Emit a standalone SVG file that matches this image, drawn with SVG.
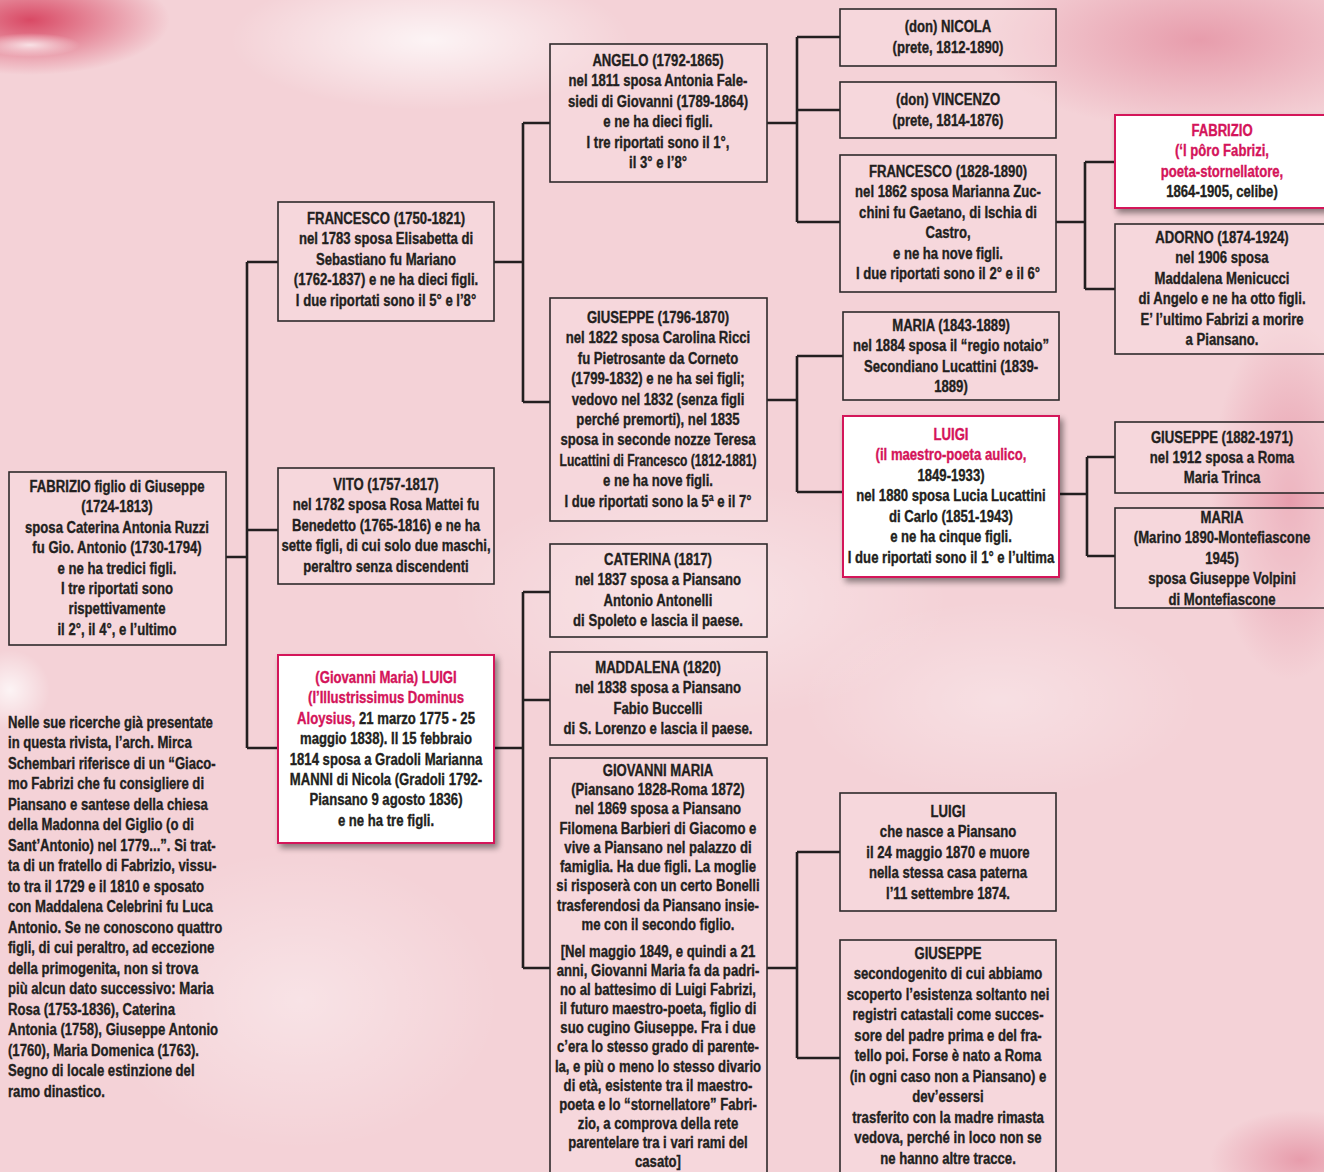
<svg xmlns="http://www.w3.org/2000/svg" width="1324" height="1172" viewBox="0 0 1324 1172">
<style>
.t{font-family:"Liberation Sans","Arial",sans-serif;font-weight:bold;font-size:16px;fill:#231f20;stroke:#231f20;stroke-width:0.35;text-anchor:middle}
.l{text-anchor:start}
.p{fill:#d4145a;stroke:#d4145a}
.b{fill:#f9e3e6;fill-opacity:0.35;stroke:#2e2a2b;stroke-width:1.6}
.w{fill:#ffffff;stroke:#d4145a;stroke-width:2;filter:url(#sh)}
.c{fill:none;stroke:#231f20;stroke-width:2.6}
</style>
<defs>
<filter id="sh" x="-10%" y="-10%" width="130%" height="130%">
<feGaussianBlur in="SourceAlpha" stdDeviation="3"/>
<feOffset dx="3" dy="4" result="o"/>
<feComponentTransfer><feFuncA type="linear" slope="0.45"/></feComponentTransfer>
<feMerge><feMergeNode/><feMergeNode in="SourceGraphic"/></feMerge>
</filter>
<radialGradient id="g1" cx="0.5" cy="0.5" r="0.5"><stop offset="0" stop-color="#d63a58" stop-opacity="0.9"/><stop offset="1" stop-color="#d63a58" stop-opacity="0"/></radialGradient>
<radialGradient id="g2" cx="0.5" cy="0.5" r="0.5"><stop offset="0" stop-color="#e48fa1" stop-opacity="0.8"/><stop offset="1" stop-color="#e48fa1" stop-opacity="0"/></radialGradient>
<radialGradient id="g3" cx="0.5" cy="0.5" r="0.5"><stop offset="0" stop-color="#ffffff" stop-opacity="0.75"/><stop offset="1" stop-color="#ffffff" stop-opacity="0"/></radialGradient>
</defs>
<g id="background">
<rect width="1324" height="1172" fill="#f4d2d7"/>
<ellipse cx="30" cy="20" rx="140" ry="55" fill="url(#g1)"/>
<ellipse cx="1200" cy="40" rx="220" ry="90" fill="url(#g2)"/>
<ellipse cx="1300" cy="1160" rx="90" ry="50" fill="url(#g2)"/>
<ellipse cx="1290" cy="500" rx="80" ry="180" fill="url(#g2)"/>
<ellipse cx="430" cy="40" rx="200" ry="70" fill="url(#g3)"/>
<ellipse cx="30" cy="45" rx="50" ry="12" fill="url(#g3)"/>
<ellipse cx="10" cy="690" rx="40" ry="40" fill="url(#g3)"/>
<ellipse cx="700" cy="600" rx="250" ry="120" fill="url(#g3)" opacity="0.5"/>
<ellipse cx="300" cy="1000" rx="200" ry="150" fill="url(#g3)" opacity="0.5"/>
<ellipse cx="1000" cy="700" rx="200" ry="100" fill="url(#g3)" opacity="0.4"/>
</g>
<g id="connectors">
<path class="c" d="M226,557H247M247,262V748M247,262H278M247,530H278M247,748H278"/>
<path class="c" d="M494,262H523M523,123V402M523,123H550M523,402H550"/>
<path class="c" d="M494,748H523M523,592V968M523,592H550M523,700H550M523,968H550"/>
<path class="c" d="M767,123H797M797,37V222M797,37H840M797,110H840M797,222H840"/>
<path class="c" d="M1056,222H1085M1085,162V289M1085,162H1115M1085,289H1115"/>
<path class="c" d="M767,400H797M797,356V492M797,356H843M797,492H843"/>
<path class="c" d="M1059,494H1087M1087,457V556M1087,457H1115M1087,556H1115"/>
<path class="c" d="M767,968H797M797,852V1058M797,852H840M797,1058H840"/>
</g>
<g id="n-fabrizio-root">
<rect class="b" x="9" y="472" width="217" height="173"/>
<text class="t" transform="translate(117 0) scale(0.82 1)" y="492"><tspan x="0">FABRIZIO figlio di Giuseppe</tspan><tspan x="0" dy="20.4">(1724-1813)</tspan><tspan x="0" dy="20.4">sposa Caterina Antonia Ruzzi</tspan><tspan x="0" dy="20.4">fu Gio. Antonio (1730-1794)</tspan><tspan x="0" dy="20.4">e ne ha tredici figli.</tspan><tspan x="0" dy="20.4">I tre riportati sono</tspan><tspan x="0" dy="20.4">rispettivamente</tspan><tspan x="0" dy="20.4">il 2°, il 4°, e l’ultimo</tspan></text>
</g>
<g id="n-note">
<text class="t l" transform="translate(8 0) scale(0.82 1)" y="728"><tspan x="0">Nelle sue ricerche già presentate</tspan><tspan x="0" dy="20.5">in questa rivista, l’arch. Mirca</tspan><tspan x="0" dy="20.5">Schembari riferisce di un “Giaco-</tspan><tspan x="0" dy="20.5">mo Fabrizi che fu consigliere di</tspan><tspan x="0" dy="20.5">Piansano e santese della chiesa</tspan><tspan x="0" dy="20.5">della Madonna del Giglio (o di</tspan><tspan x="0" dy="20.5">Sant’Antonio) nel 1779...”. Si trat-</tspan><tspan x="0" dy="20.5">ta di un fratello di Fabrizio, vissu-</tspan><tspan x="0" dy="20.5">to tra il 1729 e il 1810 e sposato</tspan><tspan x="0" dy="20.5">con Maddalena Celebrini fu Luca</tspan><tspan x="0" dy="20.5">Antonio. Se ne conoscono quattro</tspan><tspan x="0" dy="20.5">figli, di cui peraltro, ad eccezione</tspan><tspan x="0" dy="20.5">della primogenita, non si trova</tspan><tspan x="0" dy="20.5">più alcun dato successivo: Maria</tspan><tspan x="0" dy="20.5">Rosa (1753-1836), Caterina</tspan><tspan x="0" dy="20.5">Antonia (1758), Giuseppe Antonio</tspan><tspan x="0" dy="20.5">(1760), Maria Domenica (1763).</tspan><tspan x="0" dy="20.5">Segno di locale estinzione del</tspan><tspan x="0" dy="20.5">ramo dinastico.</tspan></text>
</g>
<g id="n-francesco-1750">
<rect class="b" x="278" y="202" width="216" height="119"/>
<text class="t" transform="translate(386 0) scale(0.82 1)" y="224"><tspan x="0">FRANCESCO (1750-1821)</tspan><tspan x="0" dy="20.5">nel 1783 sposa Elisabetta di</tspan><tspan x="0" dy="20.5">Sebastiano fu Mariano</tspan><tspan x="0" dy="20.5">(1762-1837) e ne ha dieci figli.</tspan><tspan x="0" dy="20.5">I due riportati sono il 5° e l’8°</tspan></text>
</g>
<g id="n-vito">
<rect class="b" x="278" y="468" width="216" height="116"/>
<text class="t" transform="translate(386 0) scale(0.82 1)" y="490"><tspan x="0">VITO (1757-1817)</tspan><tspan x="0" dy="20.5">nel 1782 sposa Rosa Mattei fu</tspan><tspan x="0" dy="20.5">Benedetto (1765-1816) e ne ha</tspan><tspan x="0" dy="20.5">sette figli, di cui solo due maschi,</tspan><tspan x="0" dy="20.5">peraltro senza discendenti</tspan></text>
</g>
<g id="n-luigi-1775">
<rect class="w" x="278" y="655" width="216" height="188"/>
<text class="t" transform="translate(386 0) scale(0.82 1)" y="683"><tspan x="0" class="p">(Giovanni Maria) LUIGI</tspan><tspan x="0" dy="20.4" class="p">(l’Illustrissimus Dominus</tspan><tspan x="0" dy="20.4"><tspan class="p">Aloysius,</tspan> 21 marzo 1775 - 25</tspan><tspan x="0" dy="20.4">maggio 1838). Il 15 febbraio</tspan><tspan x="0" dy="20.4">1814 sposa a Gradoli Marianna</tspan><tspan x="0" dy="20.4">MANNI di Nicola (Gradoli 1792-</tspan><tspan x="0" dy="20.4">Piansano 9 agosto 1836)</tspan><tspan x="0" dy="20.4">e ne ha tre figli.</tspan></text>
</g>
<g id="n-angelo">
<rect class="b" x="550" y="44" width="217" height="138"/>
<text class="t" transform="translate(658 0) scale(0.82 1)" y="66"><tspan x="0">ANGELO (1792-1865)</tspan><tspan x="0" dy="20.5">nel 1811 sposa Antonia Fale-</tspan><tspan x="0" dy="20.5">siedi di Giovanni (1789-1864)</tspan><tspan x="0" dy="20.5">e ne ha dieci figli.</tspan><tspan x="0" dy="20.5">I tre riportati sono il 1°,</tspan><tspan x="0" dy="20.5">il 3° e l’8°</tspan></text>
</g>
<g id="n-giuseppe-1796">
<rect class="b" x="550" y="298" width="217" height="223"/>
<text class="t" transform="translate(658 0) scale(0.82 1)" y="323"><tspan x="0">GIUSEPPE (1796-1870)</tspan><tspan x="0" dy="20.4">nel 1822 sposa Carolina Ricci</tspan><tspan x="0" dy="20.4">fu Pietrosante da Corneto</tspan><tspan x="0" dy="20.4">(1799-1832) e ne ha sei figli;</tspan><tspan x="0" dy="20.4">vedovo nel 1832 (senza figli</tspan><tspan x="0" dy="20.4">perché premorti), nel 1835</tspan><tspan x="0" dy="20.4">sposa in seconde nozze Teresa</tspan><tspan x="-120" dy="20.4" textLength="240" lengthAdjust="spacingAndGlyphs" style="text-anchor:start">Lucattini di Francesco (1812-1881)</tspan><tspan x="0" dy="20.4">e ne ha nove figli.</tspan><tspan x="0" dy="20.4">I due riportati sono la 5ª e il 7°</tspan></text>
</g>
<g id="n-caterina">
<rect class="b" x="550" y="544" width="217" height="93"/>
<text class="t" transform="translate(658 0) scale(0.82 1)" y="565"><tspan x="0">CATERINA (1817)</tspan><tspan x="0" dy="20.5">nel 1837 sposa a Piansano</tspan><tspan x="0" dy="20.5">Antonio Antonelli</tspan><tspan x="0" dy="20.5">di Spoleto e lascia il paese.</tspan></text>
</g>
<g id="n-maddalena">
<rect class="b" x="550" y="652" width="217" height="93"/>
<text class="t" transform="translate(658 0) scale(0.82 1)" y="673"><tspan x="0">MADDALENA (1820)</tspan><tspan x="0" dy="20.5">nel 1838 sposa a Piansano</tspan><tspan x="0" dy="20.5">Fabio Buccelli</tspan><tspan x="0" dy="20.5">di S. Lorenzo e lascia il paese.</tspan></text>
</g>
<g id="n-giovanni-maria">
<rect class="b" x="550" y="758" width="217" height="420"/>
<text class="t" transform="translate(658 0) scale(0.82 1)" y="776"><tspan x="0">GIOVANNI MARIA</tspan><tspan x="0" dy="19.25">(Piansano 1828-Roma 1872)</tspan><tspan x="0" dy="19.25">nel 1869 sposa a Piansano</tspan><tspan x="0" dy="19.25">Filomena Barbieri di Giacomo e</tspan><tspan x="0" dy="19.25">vive a Piansano nel palazzo di</tspan><tspan x="0" dy="19.25">famiglia. Ha due figli. La moglie</tspan><tspan x="0" dy="19.25">si risposerà con un certo Bonelli</tspan><tspan x="0" dy="19.25">trasferendosi da Piansano insie-</tspan><tspan x="0" dy="19.25">me con il secondo figlio.</tspan></text>
<text class="t" transform="translate(658 0) scale(0.82 1)" y="957"><tspan x="0">[Nel maggio 1849, e quindi a 21</tspan><tspan x="0" dy="19.1">anni, Giovanni Maria fa da padri-</tspan><tspan x="0" dy="19.1">no al battesimo di Luigi Fabrizi,</tspan><tspan x="0" dy="19.1">il futuro maestro-poeta, figlio di</tspan><tspan x="0" dy="19.1">suo cugino Giuseppe. Fra i due</tspan><tspan x="0" dy="19.1">c’era lo stesso grado di parente-</tspan><tspan x="0" dy="19.1">la, e più o meno lo stesso divario</tspan><tspan x="0" dy="19.1">di età, esistente tra il maestro-</tspan><tspan x="0" dy="19.1">poeta e lo “stornellatore” Fabri-</tspan><tspan x="0" dy="19.1">zio, a comprova della rete</tspan><tspan x="0" dy="19.1">parentelare tra i vari rami del</tspan><tspan x="0" dy="19.1">casato]</tspan></text>
</g>
<g id="n-nicola">
<rect class="b" x="840" y="9" width="216" height="57"/>
<text class="t" transform="translate(948 0) scale(0.82 1)" y="32"><tspan x="0">(don) NICOLA</tspan><tspan x="0" dy="21">(prete, 1812-1890)</tspan></text>
</g>
<g id="n-vincenzo">
<rect class="b" x="840" y="82" width="216" height="56"/>
<text class="t" transform="translate(948 0) scale(0.82 1)" y="105"><tspan x="0">(don) VINCENZO</tspan><tspan x="0" dy="21">(prete, 1814-1876)</tspan></text>
</g>
<g id="n-francesco-1828">
<rect class="b" x="840" y="155" width="216" height="137"/>
<text class="t" transform="translate(948 0) scale(0.82 1)" y="177"><tspan x="0">FRANCESCO (1828-1890)</tspan><tspan x="0" dy="20.5">nel 1862 sposa Marianna Zuc-</tspan><tspan x="0" dy="20.5">chini fu Gaetano, di Ischia di</tspan><tspan x="0" dy="20.5">Castro,</tspan><tspan x="0" dy="20.5">e ne ha nove figli.</tspan><tspan x="0" dy="20.5">I due riportati sono il 2° e il 6°</tspan></text>
</g>
<g id="n-fabrizio-1864">
<rect class="w" x="1115" y="115" width="220" height="93"/>
<text class="t" transform="translate(1222 0) scale(0.82 1)" y="136"><tspan x="0" class="p">FABRIZIO</tspan><tspan x="0" dy="20.5" class="p">(‘l pôro Fabrizi,</tspan><tspan x="0" dy="20.5" class="p">poeta-stornellatore,</tspan><tspan x="0" dy="20.5">1864-1905, celibe)</tspan></text>
</g>
<g id="n-adorno">
<rect class="b" x="1115" y="224" width="220" height="130"/>
<text class="t" transform="translate(1222 0) scale(0.82 1)" y="243"><tspan x="0">ADORNO (1874-1924)</tspan><tspan x="0" dy="20.5">nel 1906 sposa</tspan><tspan x="0" dy="20.5">Maddalena Menicucci</tspan><tspan x="0" dy="20.5">di Angelo e ne ha otto figli.</tspan><tspan x="0" dy="20.5">E’ l’ultimo Fabrizi a morire</tspan><tspan x="0" dy="20.5">a Piansano.</tspan></text>
</g>
<g id="n-maria-1843">
<rect class="b" x="843" y="312" width="216" height="88"/>
<text class="t" transform="translate(951 0) scale(0.82 1)" y="331"><tspan x="0">MARIA (1843-1889)</tspan><tspan x="0" dy="20.4">nel 1884 sposa il “regio notaio”</tspan><tspan x="0" dy="20.4">Secondiano Lucattini (1839-</tspan><tspan x="0" dy="20.4">1889)</tspan></text>
</g>
<g id="n-luigi-1849">
<rect class="w" x="843" y="416" width="216" height="161"/>
<text class="t" transform="translate(951 0) scale(0.82 1)" y="440"><tspan x="0" class="p">LUIGI</tspan><tspan x="0" dy="20.5" class="p">(il maestro-poeta aulico,</tspan><tspan x="0" dy="20.5">1849-1933)</tspan><tspan x="0" dy="20.5">nel 1880 sposa Lucia Lucattini</tspan><tspan x="0" dy="20.5">di Carlo (1851-1943)</tspan><tspan x="0" dy="20.5">e ne ha cinque figli.</tspan><tspan x="0" dy="20.5">I due riportati sono il 1° e l’ultima</tspan></text>
</g>
<g id="n-giuseppe-1882">
<rect class="b" x="1115" y="422" width="220" height="71"/>
<text class="t" transform="translate(1222 0) scale(0.82 1)" y="443"><tspan x="0">GIUSEPPE (1882-1971)</tspan><tspan x="0" dy="20">nel 1912 sposa a Roma</tspan><tspan x="0" dy="20">Maria Trinca</tspan></text>
</g>
<g id="n-maria-1890">
<rect class="b" x="1115" y="508" width="220" height="100"/>
<text class="t" transform="translate(1222 0) scale(0.82 1)" y="523"><tspan x="0">MARIA</tspan><tspan x="0" dy="20.5">(Marino 1890-Montefiascone</tspan><tspan x="0" dy="20.5">1945)</tspan><tspan x="0" dy="20.5">sposa Giuseppe Volpini</tspan><tspan x="0" dy="20.5">di Montefiascone</tspan></text>
</g>
<g id="n-luigi-1870">
<rect class="b" x="840" y="793" width="216" height="118"/>
<text class="t" transform="translate(948 0) scale(0.82 1)" y="817"><tspan x="0">LUIGI</tspan><tspan x="0" dy="20.5">che nasce a Piansano</tspan><tspan x="0" dy="20.5">il 24 maggio 1870 e muore</tspan><tspan x="0" dy="20.5">nella stessa casa paterna</tspan><tspan x="0" dy="20.5">l’11 settembre 1874.</tspan></text>
</g>
<g id="n-giuseppe-last">
<rect class="b" x="840" y="940" width="216" height="240"/>
<text class="t" transform="translate(948 0) scale(0.82 1)" y="959"><tspan x="0">GIUSEPPE</tspan><tspan x="0" dy="20.5">secondogenito di cui abbiamo</tspan><tspan x="0" dy="20.5">scoperto l’esistenza soltanto nei</tspan><tspan x="0" dy="20.5">registri catastali come succes-</tspan><tspan x="0" dy="20.5">sore del padre prima e del fra-</tspan><tspan x="0" dy="20.5">tello poi. Forse è nato a Roma</tspan><tspan x="0" dy="20.5">(in ogni caso non a Piansano) e</tspan><tspan x="0" dy="20.5">dev’essersi</tspan><tspan x="0" dy="20.5">trasferito con la madre rimasta</tspan><tspan x="0" dy="20.5">vedova, perché in loco non se</tspan><tspan x="0" dy="20.5">ne hanno altre tracce.</tspan></text>
</g>
</svg>
